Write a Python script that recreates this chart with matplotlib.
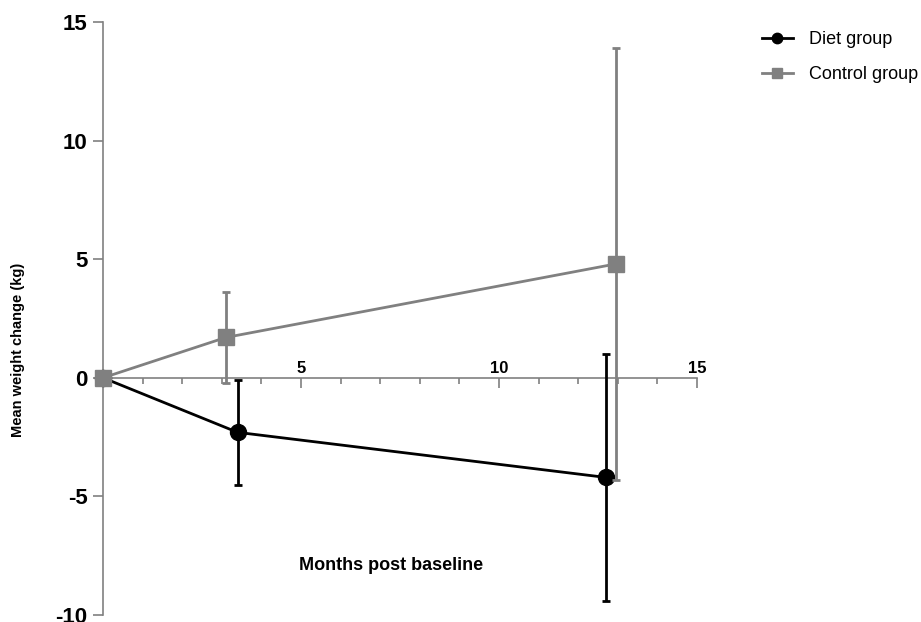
import numpy as np
import matplotlib.pyplot as plt
from matplotlib.ticker import FixedLocator

plt.rcParams['font.family'] = ['Liberation Sans', 'DejaVu Sans']
plt.rcParams['axes.unicode_minus'] = False

# months after baseline, mean change and error (kg)
diet_months = [0, 3.4, 12.7]
diet_mean = [0, -2.3, -4.2]
diet_err = [0, 2.2, 5.2]

ctrl_months = [0, 3.1, 12.95]
ctrl_mean = [0, 1.7, 4.8]
ctrl_err = [0, 1.9, 9.1]

x_major = [5, 10, 15]
x_minor = [1, 2, 3, 4, 6, 7, 8, 9, 11, 12, 13, 14]
y_ticks = [-10, -5, 0, 5, 10, 15]

grey = '#808080'

fig = plt.figure(figsize=(9.21, 6.22), dpi=100)
ax = fig.add_axes([103/921, 1-615/622, 594/921, 593/622])

d = ax.errorbar(diet_months, diet_mean, yerr=diet_err, errorevery=(1, 1),
                color='black', marker='o', markersize=11.5, lw=2, elinewidth=2,
                capsize=3, capthick=2, label='Diet group', clip_on=False, zorder=3)
c = ax.errorbar(ctrl_months, ctrl_mean, yerr=ctrl_err, errorevery=(1, 1),
                color=grey, marker='s', markersize=11, lw=2, elinewidth=2,
                capsize=3, capthick=2, label='Control group', clip_on=False, zorder=4)

ax.set_xlim(0, 15)
ax.set_ylim(-10, 15)

ax.spines['top'].set_visible(False)
ax.spines['right'].set_visible(False)
ax.spines['bottom'].set_position(('data', 0))
ax.spines['bottom'].set_bounds(0, 15)
for s in ['left', 'bottom']:
    ax.spines[s].set_color(grey)
    ax.spines[s].set_linewidth(1.2)

ax.xaxis.set_major_locator(FixedLocator(x_major))
ax.xaxis.set_minor_locator(FixedLocator(x_minor))
ax.set_yticks(y_ticks)

ax.tick_params(axis='x', which='major', direction='out', length=7.5, width=1.2,
               color=grey, pad=-9, labelsize=12)
ax.tick_params(axis='x', which='minor', direction='out', length=4, width=1.2, color=grey)
ax.tick_params(axis='y', direction='out', length=7.5, width=1.2, color=grey,
               pad=3.5, labelsize=16)
for t in ax.get_xticklabels():
    t.set_va('bottom')
    t.set_fontweight('bold')
for t in ax.get_yticklabels():
    t.set_fontweight('bold')

ax.text(0.485, 0.0843, 'Months post baseline', transform=ax.transAxes,
        ha='center', va='center', fontsize=13, fontweight='bold')
fig.text(18/921, 1-350/622, 'Mean weight change (kg)', rotation=90,
         ha='center', va='center', fontsize=10.5, fontweight='bold')

fig.legend([d[0], c[0]], ['Diet group', 'Control group'], loc='upper left',
           bbox_to_anchor=(762/921, 1-31/622), frameon=False,
           fontsize=13, handlelength=1.7, handletextpad=0.9, labelspacing=1.0,
           markerscale=0.65, borderpad=0, borderaxespad=0)

plt.savefig('out.png', dpi=100)
